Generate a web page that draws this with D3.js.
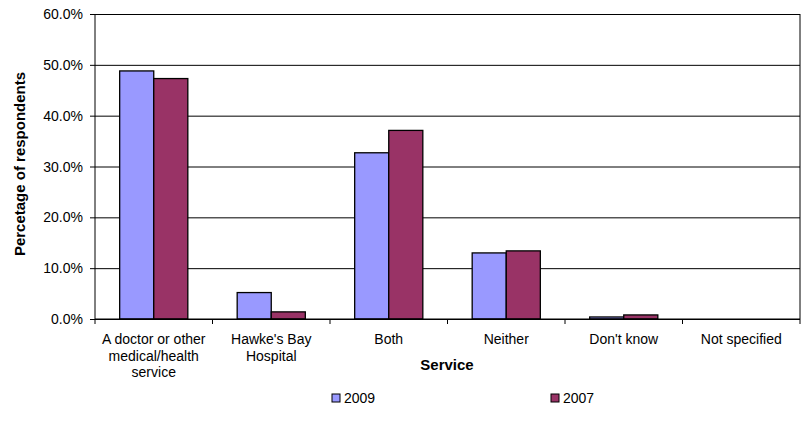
<html><head>
<script src="https://d3js.org/d3.v7.min.js"></script>
<style>
  body { margin: 0; background: #fff; }
  text { font-family: "Liberation Sans", Arial, sans-serif; fill: #000; }
  .axis .domain { stroke: none; }
  .axis line { stroke: #000; }
</style>
</head>
<body>
<svg id="chart" width="809" height="423"></svg>
<script>

// Data
const categories = [
  ["A doctor or other", "medical/health", "service"],
  ["Hawke's Bay", "Hospital"],
  ["Both"],
  ["Neither"],
  ["Don't know"],
  ["Not specified"]
];
const seriesNames = ["2009", "2007"];
const values2009 = [48.8, 5.2, 32.7, 13.0, 0.4, 0.0];
const values2007 = [47.3, 1.4, 37.1, 13.4, 0.8, 0.0];
const yTicks = [0, 10, 20, 30, 40, 50, 60];
const colors = ["#9999FF", "#993366"];

const svg = d3.select("svg#chart");
const margin = {top: 14, right: 9, bottom: 104, left: 95};
const chartWidth = 809 - margin.left - margin.right;
const chartHeight = 423 - margin.top - margin.bottom;

const catIdx = categories.map((d, i) => i);
const xScale = d3.scaleBand().domain(catIdx).range([0, chartWidth]).paddingInner(0.42).paddingOuter(0.21);
const groupScale = d3.scaleBand().domain(seriesNames).range([0, xScale.bandwidth()]);
const yScale = d3.scaleLinear().domain([0, 60]).range([chartHeight, 0]);

const chartArea = svg.append("g")
  .attr("transform", "translate(" + margin.left + "," + margin.top + ")");

// gridlines
chartArea.append("g").attr("class", "axis")
  .call(d3.axisLeft(yScale).tickValues(yTicks).tickSize(-chartWidth).tickFormat(""))
  .selectAll("line").attr("stroke", "#000").attr("stroke-width", 1);

// plot frame (right side)
chartArea.append("line")
  .attr("x1", chartWidth).attr("x2", chartWidth)
  .attr("y1", 0).attr("y2", chartHeight)
  .attr("stroke", "#000");

// y axis
let leftAxis = d3.axisLeft(yScale).tickValues(yTicks).tickSize(5).tickPadding(7)
  .tickFormat(d => d3.format(".1f")(d) + "%");
let yAxisG = chartArea.append("g").attr("class", "axis").call(leftAxis);
yAxisG.selectAll("text").style("font-size", "14px").attr("dy", "0.33em");
chartArea.append("line").attr("x1", 0).attr("x2", 0).attr("y1", 0).attr("y2", chartHeight).attr("stroke", "#000");

// bars
const rows = catIdx.map(i => ({ i: i, vals: [values2009[i], values2007[i]] }));
const groups = chartArea.selectAll("g.group").data(rows).join("g")
  .attr("class", "group")
  .attr("transform", d => "translate(" + xScale(d.i) + ",0)");
groups.selectAll("rect").data(d => d.vals.map((v, k) => ({ v: v, k: k })))
  .join("rect")
  .filter(d => d.v > 0)
  .attr("x", d => groupScale(seriesNames[d.k]))
  .attr("y", d => yScale(d.v))
  .attr("width", groupScale.bandwidth())
  .attr("height", d => chartHeight - yScale(d.v))
  .attr("fill", d => colors[d.k])
  .attr("stroke", "#000")
  .attr("stroke-width", 1.3);

// x axis
const step = chartWidth / categories.length;
const xLine = chartArea.append("g").attr("transform", "translate(0," + chartHeight + ")");
xLine.append("line").attr("x1", 0).attr("x2", chartWidth).attr("stroke", "#000");
xLine.selectAll("line.tick").data(d3.range(categories.length + 1)).join("line")
  .attr("class", "tick")
  .attr("x1", d => d * step).attr("x2", d => d * step)
  .attr("y1", 0).attr("y2", 5).attr("stroke", "#000");

const labels = xLine.selectAll("text.cat").data(catIdx).join("text")
  .attr("class", "cat")
  .attr("text-anchor", "middle")
  .style("font-size", "14px")
  .attr("transform", d => "translate(" + (xScale(d) + xScale.bandwidth() / 2) + ",25)");
labels.selectAll("tspan").data(d => categories[d]).join("tspan")
  .attr("x", 0).attr("dy", (d, i) => i === 0 ? 0 : 16.7)
  .text(d => d);

// axis titles
svg.append("text")
  .attr("x", 447).attr("y", 370)
  .attr("text-anchor", "middle")
  .style("font-size", "15px").style("font-weight", "bold")
  .text("Service");
svg.append("text")
  .attr("transform", "translate(25,164) rotate(-90)")
  .attr("text-anchor", "middle")
  .style("font-size", "15px").style("font-weight", "bold")
  .text("Percetage of respondents");

// legend
const legendX = [332, 551];
const legend = svg.selectAll("g.legend").data(seriesNames).join("g")
  .attr("class", "legend")
  .attr("transform", (d, i) => "translate(" + legendX[i] + ",394)");
legend.append("rect")
  .attr("width", 8).attr("height", 8)
  .attr("fill", (d, i) => colors[i])
  .attr("stroke", "#000").attr("stroke-width", 1);
legend.append("text")
  .attr("x", 12).attr("y", 9)
  .style("font-size", "14px")
  .text(d => d);

</script>
</body>
</html>
